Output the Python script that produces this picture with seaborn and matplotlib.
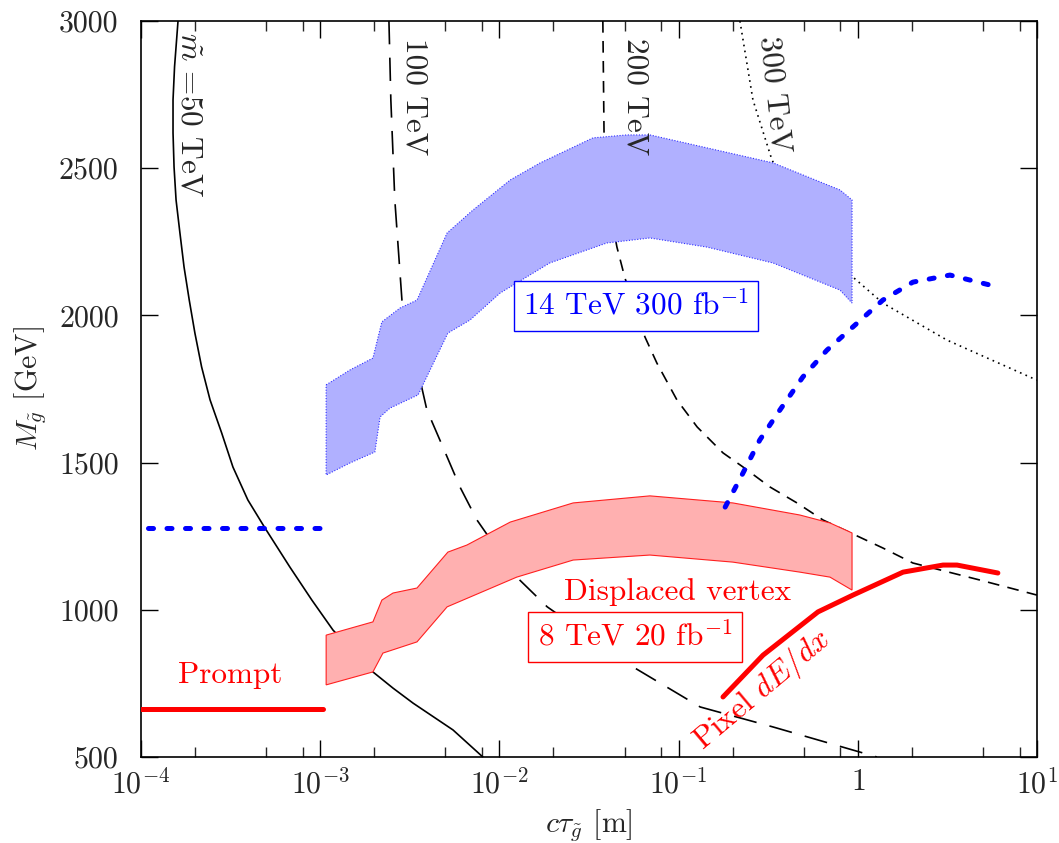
import numpy as np
import pandas as pd
import matplotlib
matplotlib.use("Agg")
import matplotlib.pyplot as plt
import matplotlib.ticker as mticker
import seaborn as sns

# ---------------- data ----------------
# Lifetime contours for fixed squark mass (c tau [m], gluino mass [GeV])
m50_ctau = [1.61e-4, 1.54e-4, 1.51e-4, 1.51e-4, 1.53e-4, 1.57e-4, 1.65e-4, 1.74e-4, 1.86e-4,
            2.00e-4, 2.18e-4, 2.43e-4, 2.82e-4, 3.26e-4, 3.95e-4, 4.92e-4, 6.78e-4, 8.99e-4,
            1.18e-3, 1.97e-3, 2.55e-3, 3.30e-3, 5.51e-3, 8.09e-3]
m50_mass = [3000, 2845, 2732, 2620, 2504, 2392, 2280, 2164, 2052,
            1940, 1825, 1713, 1601, 1485, 1373, 1278, 1145, 1033,
            931, 789, 734, 683, 592, 500]

m100_ctau = [2.42e-3, 2.48e-3, 2.61e-3, 2.86e-3, 3.94e-3, 4.84e-3, 6.03e-3, 7.50e-3,
             1.25e-2, 1.85e-2, 5.57e-2, 0.132, 0.337, 1.28]
m100_mass = [3000, 2732, 2392, 2052, 1679, 1553, 1417, 1305,
             1111, 1010, 806, 670, 602, 500]

m200_ctau = [3.78e-2, 3.84e-2, 4.04e-2, 4.53e-2, 5.02e-2, 6.49e-2, 7.57e-2, 9.79e-2, 0.127,
             0.177, 0.229, 0.324, 0.458, 0.640, 1.38, 2.03, 4.81, 10.0]
m200_mass = [3000, 2606, 2392, 2232, 2127, 1927, 1838, 1713, 1621,
             1533, 1485, 1417, 1363, 1305, 1210, 1159, 1101, 1050]

m300_ctau = [0.220, 0.260, 0.332, 0.541, 0.940, 1.38, 3.15, 10.0]
m300_mass = [3000, 2732, 2528, 2290, 2130, 2042, 1916, 1780]

# 14 TeV, 300 fb^-1 displaced-vertex reach (band)
hl_up_ctau = [1.08e-3, 1.47e-3, 1.97e-3, 2.21e-3, 2.79e-3, 3.47e-3, 5.11e-3, 7.13e-3, 1.15e-2,
              1.69e-2, 3.33e-2, 5.15e-2, 6.92e-2, 0.144, 0.337, 0.796, 0.929]
hl_up_mass = [1764, 1815, 1855, 1978, 2025, 2052, 2280, 2358, 2460,
              2518, 2603, 2613, 2613, 2569, 2518, 2426, 2392]
hl_lo_ctau = [1.08e-3, 1.47e-3, 2.02e-3, 2.16e-3, 2.45e-3, 3.52e-3, 5.16e-3, 6.85e-3, 1.01e-2,
              1.91e-2, 3.98e-2, 6.92e-2, 0.144, 0.337, 0.796, 0.929]
hl_lo_mass = [1458, 1499, 1536, 1655, 1685, 1730, 1940, 1984, 2076,
              2178, 2246, 2263, 2232, 2178, 2086, 2042]

# 8 TeV, 20 fb^-1 displaced-vertex reach (band)
dv_up_ctau = [1.08e-3, 1.97e-3, 2.21e-3, 2.55e-3, 3.47e-3, 5.16e-3, 6.59e-3, 1.15e-2,
              2.58e-2, 6.92e-2, 0.201, 0.475, 0.700, 0.929]
dv_up_mass = [914, 959, 1033, 1057, 1074, 1196, 1220, 1298,
              1363, 1387, 1363, 1322, 1295, 1261]
dv_lo_ctau = [1.08e-3, 1.97e-3, 2.24e-3, 3.47e-3, 5.11e-3, 1.25e-2, 2.58e-2, 6.92e-2,
              0.201, 0.475, 0.700, 0.929]
dv_lo_mass = [745, 789, 853, 891, 1010, 1111, 1169, 1186,
              1162, 1128, 1111, 1067]

# Prompt searches
prompt8_ctau = [1.0e-4, 1.04e-3]
prompt8_mass = [663, 663]
prompt14_ctau = [1.09e-4, 1.06e-3]
prompt14_mass = [1278, 1278]

# Pixel dE/dx (8 TeV) and its 14 TeV projection
pix8_ctau = [0.177, 0.296, 0.600, 0.940, 1.79, 2.99, 3.58, 6.05]
pix8_mass = [704, 846, 993, 1050, 1128, 1152, 1152, 1125]
pix14_ctau = [0.182, 0.229, 0.284, 0.368, 0.494, 0.673, 0.940, 1.38, 2.03, 3.27, 5.47]
pix14_mass = [1349, 1465, 1577, 1679, 1791, 1882, 1961, 2052, 2113, 2137, 2103]

x_ticks = [1e-4, 1e-3, 1e-2, 1e-1, 1, 10]
x_ticklabels = [r"$10^{-4}$", r"$10^{-3}$", r"$10^{-2}$", r"$10^{-1}$", r"$1$", r"$10^{1}$"]
y_ticks = [500, 1000, 1500, 2000, 2500, 3000]

# ---------------- style ----------------
sns.set_theme(style="ticks")
plt.rcParams["font.family"] = ["cmr10", "DejaVu Serif"]
plt.rcParams["mathtext.fontset"] = "cm"
plt.rcParams["axes.formatter.use_mathtext"] = True
plt.rcParams["axes.unicode_minus"] = False

FS = 21.5
FS_TXT = 22.5
BLUE = "#0000ff"
RED = "#ff0000"

fig = plt.figure(figsize=(10.59, 8.43), dpi=100)
ax = fig.add_axes([0.1331, 0.1020, 0.8461, 0.8731])

def line(x, y, **kw):
    sns.lineplot(x=x, y=y, sort=False, estimator=None, ax=ax, legend=False, **kw)

# contours of constant squark mass
line(m50_ctau, m50_mass, color="black", linewidth=1.2, zorder=2)
line(m100_ctau, m100_mass, color="black", linewidth=1.2, linestyle=(0, (14, 8)), zorder=2)
line(m200_ctau, m200_mass, color="black", linewidth=1.2, linestyle=(0, (7, 5)), zorder=2)
line(m300_ctau, m300_mass, color="black", linewidth=1.2, linestyle=(0, (1, 2.6)), zorder=2)

# reach bands
ax.fill(hl_up_ctau + hl_lo_ctau[::-1], hl_up_mass + hl_lo_mass[::-1],
        facecolor="#b0b0ff", edgecolor="#3030ff", linewidth=0.8, linestyle=(0, (1, 1.5)), zorder=3)
ax.fill(dv_up_ctau + dv_lo_ctau[::-1], dv_up_mass + dv_lo_mass[::-1],
        facecolor="#ffb0b0", edgecolor="#ff2020", linewidth=0.8, zorder=3)

# thick limit lines
line(prompt8_ctau, prompt8_mass, color=RED, linewidth=3.6, solid_capstyle="round", zorder=4)
line(pix8_ctau, pix8_mass, color=RED, linewidth=3.6, solid_capstyle="round", zorder=4)
line(prompt14_ctau, prompt14_mass, color=BLUE, linewidth=3.6, linestyle=(0, (1.0, 2.7)),
     dash_capstyle="round", zorder=4)
line(pix14_ctau, pix14_mass, color=BLUE, linewidth=3.6, linestyle=(0, (1.0, 2.7)),
     dash_capstyle="round", zorder=4)

# ---------------- axes ----------------
ax.set_xscale("log")
ax.set_xlim(1e-4, 10)
ax.set_ylim(500, 3000)
ax.set_xticks(x_ticks)
ax.set_xticklabels(x_ticklabels)
ax.xaxis.set_minor_locator(mticker.LogLocator(base=10, subs=[2, 5, 8], numticks=20))
ax.xaxis.set_minor_formatter(mticker.NullFormatter())
ax.set_yticks(y_ticks)
ax.set_yticklabels([str(v) for v in y_ticks])
ax.tick_params(axis="both", which="major", direction="in", length=12, width=1.0,
               top=True, right=True, labelsize=FS, color="black")
ax.tick_params(axis="x", which="minor", direction="in", length=7, width=1.0, top=True, bottom=True)
ax.tick_params(axis="y", which="major", pad=16)
ax.tick_params(axis="x", which="major", pad=8)
for s in ax.spines.values():
    s.set_linewidth(1.2)
    s.set_color("black")

ax.set_xlabel(r"$c\tau_{\tilde{g}}$ [m]", fontsize=FS, labelpad=6)
ax.set_ylabel(r"$M_{\tilde{g}}$ [GeV]", fontsize=FS, labelpad=8)

# ---------------- annotations ----------------
ax.text(1.87e-4, 2681, r"$\tilde{m}$ =50 TeV", rotation=270, fontsize=FS_TXT,
        ha="center", va="center", zorder=6)
ax.text(3.38e-3, 2742, "100 TeV", rotation=270, fontsize=FS_TXT, ha="center", va="center", zorder=6)
ax.text(5.78e-2, 2742, "200 TeV", rotation=270, fontsize=FS_TXT, ha="center", va="center", zorder=6)
ax.text(0.345, 2749, "300 TeV", rotation=-84, fontsize=FS_TXT, ha="center", va="center", zorder=6)

ax.text(5.78e-2, 2032, r"14 TeV 300 fb$^{-1}$", fontsize=FS_TXT, color=BLUE,
        ha="center", va="center", zorder=6,
        bbox=dict(boxstyle="square,pad=0.3", facecolor="white", edgecolor=BLUE, linewidth=1.0))
ax.text(9.93e-2, 1060, "Displaced vertex", fontsize=FS_TXT, color=RED,
        ha="center", va="center", zorder=6)
ax.text(5.71e-2, 908, r"8 TeV 20 fb$^{-1}$", fontsize=FS_TXT, color=RED,
        ha="center", va="center", zorder=6,
        bbox=dict(boxstyle="square,pad=0.3", facecolor="white", edgecolor=RED, linewidth=1.0))
ax.text(3.14e-4, 778, "Prompt", fontsize=FS_TXT, color=RED, ha="center", va="center", zorder=6)
ax.text(0.292, 728, r"Pixel $dE/dx$", fontsize=FS_TXT, color=RED, rotation=40,
        ha="center", va="center", zorder=6)

fig.savefig("out.png", dpi=100)
